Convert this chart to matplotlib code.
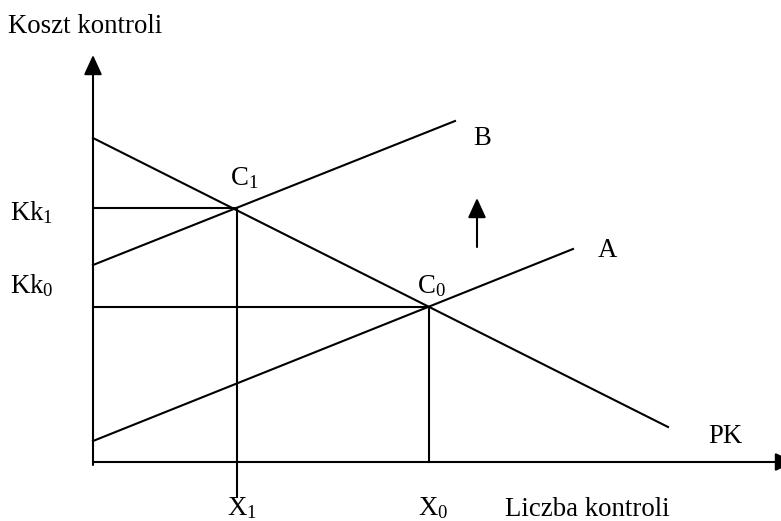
import matplotlib
matplotlib.use("Agg")
import matplotlib.pyplot as plt

plt.rcParams['font.family'] = ['Liberation Serif', 'DejaVu Serif']
plt.rcParams['mathtext.fontset'] = 'custom'
plt.rcParams['mathtext.rm'] = 'Liberation Serif'
plt.rcParams['mathtext.it'] = 'Liberation Serif:italic'

# schematic units (origin at axis corner)
pk_x = [0, 575]
pk_y = [324, 35]
a_x = [0, 480]
a_y = [21, 213]
b_x = [0, 362]
b_y = [197, 341]

c1 = (144, 254)   # C1 / Kk1 / X1
c0 = (336, 155)   # C0 / Kk0 / X0

FS = 19.3
LW = 1.5
HEAD = '-|>,head_length=1.2,head_width=0.55'

fig = plt.figure(figsize=(7.81, 5.21), dpi=100)
ax = fig.add_axes([0, 0, 1, 1])
ax.set_xlim(-93, 688)
ax.set_ylim(-59, 462)
ax.axis('off')

# axes with arrows
ax.annotate('', xy=(0, 407), xytext=(0, -3),
            arrowprops=dict(arrowstyle=HEAD, lw=LW, color='black',
                            shrinkA=0, shrinkB=0))
ax.annotate('', xy=(702, 0), xytext=(0, 0), annotation_clip=False,
            arrowprops=dict(arrowstyle=HEAD, lw=LW, color='black',
                            shrinkA=0, shrinkB=0))

ax.plot(pk_x, pk_y, color='black', lw=LW)
ax.plot(a_x, a_y, color='black', lw=LW)
ax.plot(b_x, b_y, color='black', lw=LW)

# guide lines
ax.plot([0, c1[0]], [c1[1], c1[1]], color='black', lw=LW)
ax.plot([c1[0], c1[0]], [c1[1], -35], color='black', lw=LW)
ax.plot([0, c0[0]], [c0[1], c0[1]], color='black', lw=LW)
ax.plot([c0[0], c0[0]], [c0[1], 0], color='black', lw=LW)

# shift arrow
ax.annotate('', xy=(384, 264), xytext=(384, 215),
            arrowprops=dict(arrowstyle=HEAD, lw=LW, color='black',
                            shrinkA=0, shrinkB=0))

kw = dict(fontsize=FS, va='baseline', ha='left')
ax.text(-85, 429, 'Koszt kontroli', **kw)
ax.text(-83, 242, r'$\mathrm{Kk}_{1}$', **kw)
ax.text(-83, 169, r'$\mathrm{Kk}_{0}$', **kw)
ax.text(137, 277, r'$\mathrm{C}_{1}$', **kw)
ax.text(324, 169, r'$\mathrm{C}_{0}$', **kw)
ax.text(380, 317, 'B', **kw)
ax.text(505, 205, 'A', **kw)
ax.text(615, 19, 'PK', **kw)
ax.text(134, -53, r'$\mathrm{X}_{1}$', **kw)
ax.text(325, -53, r'$\mathrm{X}_{0}$', **kw)
ax.text(412, -54, 'Liczba kontroli', **kw)

fig.savefig('out.png', dpi=100)
